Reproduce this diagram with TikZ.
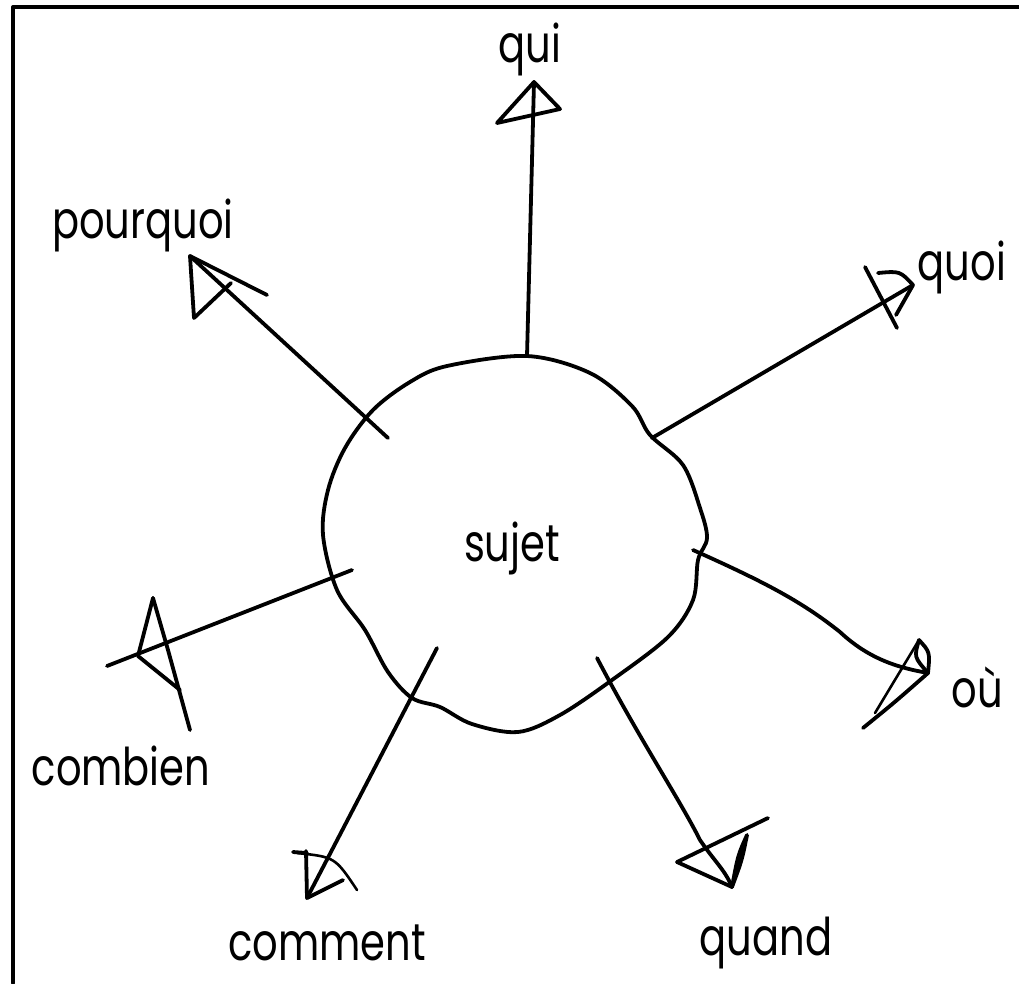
\documentclass[tikz,border=0pt]{standalone}
\usepackage{fontspec}
\setmainfont{Poppins}[FakeStretch=0.77]
\begin{document}
\begin{tikzpicture}[x=1pt,y=-1pt,line cap=round,line join=round,
  ink/.style={line width=3.8pt,black},
  fine/.style={line width=2.6pt,black},
  lbl/.style={font=\fontsize{52}{52}\selectfont,inner sep=0pt,anchor=base}]
\useasboundingbox (0,0) rectangle (1019,983);
\fill[white] (0,0) rectangle (1019,983);
\draw[line width=4pt] (13,983) -- (13,7) -- (1019,7);

% central blob
\draw[ink] plot[smooth cycle,tension=0.55] coordinates {
 (527,356) (590,373) (632,406) (650,435) (683,465) (700,508) (707,538)
 (698,560) (693,600) (668,637) (612,680) (560,715) (518,732) (472,724)
 (440,707) (412,698) (388,672) (365,630) (337,590) (323,535) (328,490)
 (345,448) (373,410) (410,382) (447,366)};

% labels
\node[lbl] (sujet) at (512,561) {sujet};
\node[lbl] (qui) at (530,62) {qui};
\node[lbl] (pourquoi) at (143,238) {pourquoi};
\node[lbl] (quoi) at (962,280) {quoi};
\node[lbl] (ou) at (977,707) {où};
\node[lbl] (combien) at (121,785) {combien};
\node[lbl] (quand) at (766,955) {quand};
\node[lbl] (comment) at (327,960) {comment};

% shaft end points
\coordinate (quiS) at (527,356);   \coordinate (quiT) at (534,82);
\coordinate (pouS) at (388,438);   \coordinate (pouT) at (190,256);
\coordinate (quoS) at (652,438);   \coordinate (quoT) at (913,285);
\coordinate (comS) at (352,570);   \coordinate (comT) at (107,666);
\coordinate (ouS)  at (693,550);   \coordinate (ouT)  at (928,673);
\coordinate (quaS) at (597,658);   \coordinate (quaT) at (732,887);
\coordinate (cmtS) at (437,648);   \coordinate (cmtT) at (307,898);

% shafts
\draw[ink] (quiS) -- (quiT);
\draw[ink] (pouS) -- (pouT);
\draw[ink] (quoS) -- (quoT);
\draw[ink] (comS) -- (comT);
\draw[ink] (ouS) .. controls (760,580) and (800,600) .. (840,632)
  .. controls (870,660) and (900,668) .. (ouT);
\draw[ink] (quaS) .. controls (640,740) and (680,800) .. (700,840)
  .. controls (715,862) and (725,870) .. (quaT);
\draw[ink] (cmtS) -- (cmtT);

% arrow heads (hand-drawn strokes)
% qui
\draw[ink] (quiT) -- (497,123) -- (560,109) -- cycle;
% pourquoi
\draw[ink] (pouT) -- (194,318) -- (231,283);
\draw[ink] (pouT) -- (267,295);
% quoi
\draw[ink] (878,273) .. controls (900,271) .. (quoT) -- (896,315);
\draw[ink] (865,267) -- (897,328);
% combien
\draw[ink] (153,598) -- (138,656) -- (180,690);
\draw[ink] (153,598) -- (168,650) -- (190,730);
% ou
\draw[ink] (919,640) .. controls (914,657) .. (ouT);
\draw[ink] (919,640) .. controls (930,652) .. (ouT);
\draw[fine] (919,640) -- (875,713);
\draw[ink] (ouT) .. controls (895,702) .. (863,728);
% quand
\draw[ink] (quaT) -- (677,862) -- (768,818);
\draw[ink] (quaT) .. controls (738,855) .. (747,835) .. controls (742,860) .. (quaT);
% comment
\draw[ink] (293,852) -- (307,853);
\draw[ink] (306,851) -- (cmtT) -- (343,880);
\draw[fine] (297,853) .. controls (335,857) .. (357,890);
\end{tikzpicture}
\end{document}
